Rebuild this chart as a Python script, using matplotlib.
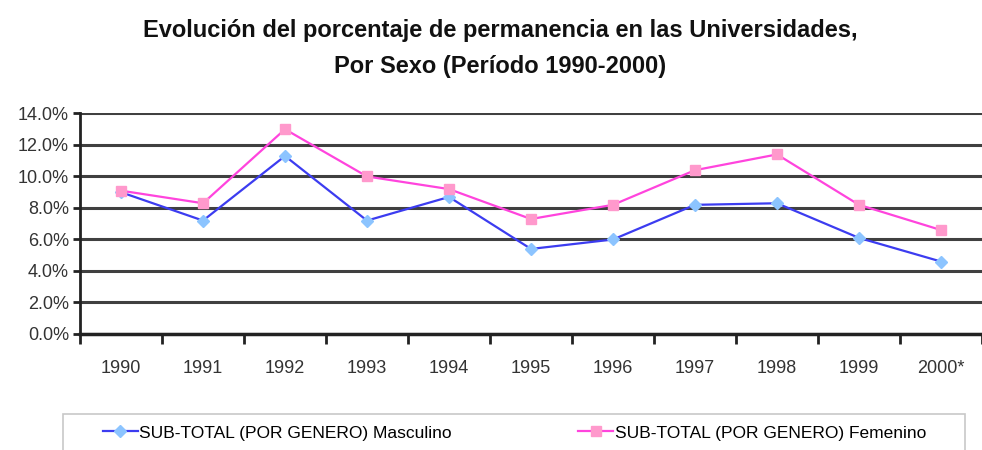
import matplotlib.pyplot as plt
from matplotlib.patches import Rectangle
from matplotlib.ticker import PercentFormatter, FixedLocator

years = ['1990', '1991', '1992', '1993', '1994', '1995', '1996', '1997', '1998', '1999', '2000*']
masculino = [9.0, 7.2, 11.3, 7.2, 8.7, 5.4, 6.0, 8.2, 8.3, 6.1, 4.6]
femenino = [9.1, 8.3, 13.0, 10.0, 9.2, 7.3, 8.2, 10.4, 11.4, 8.2, 6.6]
y_ticks = [0, 2, 4, 6, 8, 10, 12, 14]

plt.rcParams['font.family'] = ['Liberation Sans', 'DejaVu Sans']

fig = plt.figure(figsize=(9.82, 4.5), dpi=100)
ax = fig.add_axes([80 / 982, 1 - 334 / 450, 1 - 80 / 982, 221 / 450])

x = list(range(len(years)))
ax.plot(x, masculino, color='#3c3cf0', lw=1.6, marker='D', markersize=6,
        markerfacecolor='#8cc4ff', markeredgecolor='#8cc4ff',
        label='SUB-TOTAL (POR GENERO) Masculino', zorder=3)
ax.plot(x, femenino, color='#ff44dd', lw=1.6, marker='s', markersize=7,
        markerfacecolor='#ff99cc', markeredgecolor='#ff99cc',
        label='SUB-TOTAL (POR GENERO) Femenino', zorder=3)

ax.set_xlim(-0.5, len(years) - 0.5)
ax.set_ylim(0, 14.03)
ax.set_yticks(y_ticks)
ax.yaxis.set_major_formatter(PercentFormatter(decimals=1))
ax.set_xticks(x)
ax.set_xticklabels(years)
ax.xaxis.set_minor_locator(FixedLocator([i - 0.5 for i in range(len(years) + 1)]))

ax.grid(axis='y', color='#404040', lw=2.2, zorder=1)
ax.set_axisbelow(True)
for s in ['top', 'right']:
    ax.spines[s].set_visible(False)
ax.spines['left'].set_linewidth(2)
ax.spines['bottom'].set_linewidth(2.5)
ax.spines['left'].set_color('#222222')
ax.spines['bottom'].set_color('#222222')

ax.tick_params(axis='y', direction='out', length=5, width=2, color='#222222',
               labelsize=13, labelcolor='#333333', pad=3)
ax.tick_params(axis='x', which='major', length=0, pad=19,
               labelsize=13, labelcolor='#333333')
ax.tick_params(axis='x', which='minor', direction='out', length=7, width=2, color='#222222')

fig.text(500 / 982, 1 - 30 / 450, 'Evolución del porcentaje de permanencia en las Universidades,',
         ha='center', va='center', fontsize=17, fontweight='bold', color='#111111')
fig.text(500 / 982, 1 - 66 / 450, 'Por Sexo (Período 1990-2000)',
         ha='center', va='center', fontsize=17, fontweight='bold', color='#111111')

fig.patches.append(Rectangle((63 / 982, -0.05), (965 - 63) / 982, 0.05 + 1 - 414 / 450,
                             transform=fig.transFigure, fill=False,
                             edgecolor='#c8c8c8', lw=1.2))
fig.legend(loc='center left', bbox_to_anchor=(103 / 982, 1 - 433 / 450, 823 / 982, 0),
           mode='expand', ncol=2, frameon=False, fontsize=12.5, handlelength=2.0,
           handletextpad=0.1, borderaxespad=0, borderpad=0)

fig.savefig('out.png', dpi=100)
